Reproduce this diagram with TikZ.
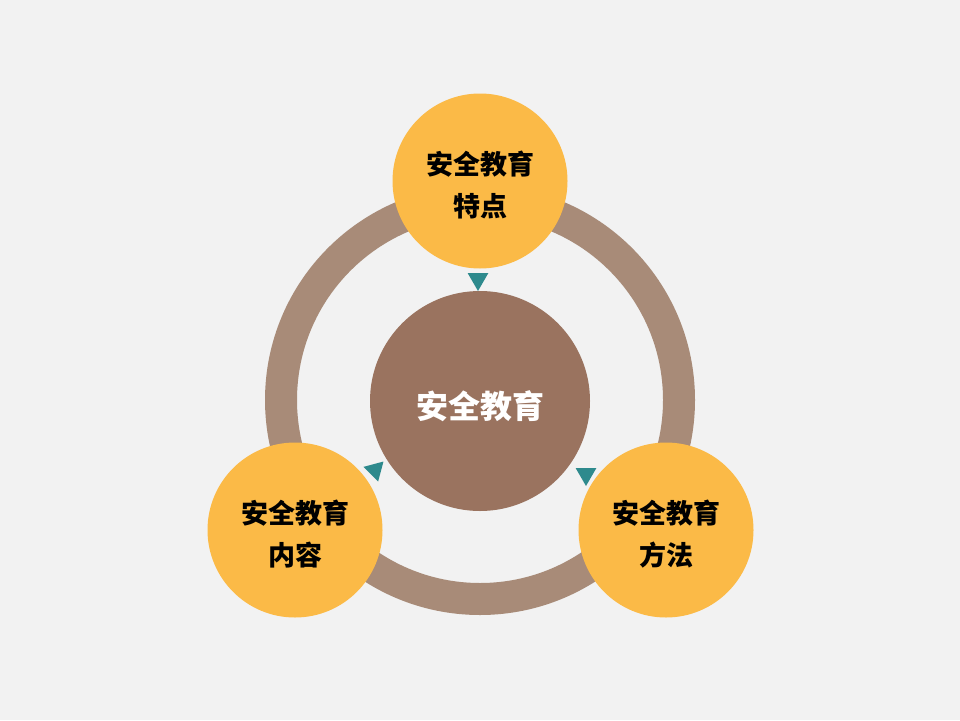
\documentclass[tikz,border=0pt]{standalone}
\usepackage{fontspec}
\setmainfont{Noto Sans CJK SC}
\usepackage{xcolor}
\definecolor{cbg}{HTML}{F2F2F2}
\definecolor{cring}{HTML}{A88B78}
\definecolor{chub}{HTML}{9A735F}
\definecolor{corange}{HTML}{FBBA47}
\definecolor{cteal}{HTML}{2E8A8D}
\usetikzlibrary{shapes.geometric}

\begin{document}
\begin{tikzpicture}[
  x=1pt,y=-1pt,
  font=\bfseries,
  ring/.style={circle,draw=cring,line width=32pt,minimum size=398pt,inner sep=0pt},
  hub/.style={circle,fill=chub,minimum size=220pt,inner sep=0pt,text=white,
    font=\bfseries\fontsize{32}{40}\selectfont},
  topic/.style={circle,fill=corange,minimum size=175pt,inner sep=0pt,align=center,
    text=black,font=\bfseries\fontsize{27}{42}\selectfont},
  tri/.style={regular polygon,regular polygon sides=3,fill=cteal,minimum size=24pt,inner sep=0pt}
]
\fill[cbg] (0,0) rectangle (960,720);
\useasboundingbox (0,0) rectangle (960,720);
\node[ring] (loop) at (480,400) {};
\node[hub] (main) at (480,401) {\rule{0pt}{38pt}安全教育};
\node[tri,rotate=180] (tritop) at (478,279) {};
\node[tri,rotate=195] (trileft) at (375,470) {};
\node[tri,rotate=180] (triright) at (586,474) {};
\node[topic] (feature) at (480,181) {\rule{0pt}{32pt}安全教育\\特点};
\node[topic] (content) at (295,530) {\rule{0pt}{32pt}安全教育\\内容};
\node[topic] (method) at (666,530) {\rule{0pt}{32pt}安全教育\\方法};
\end{tikzpicture}
\end{document}
